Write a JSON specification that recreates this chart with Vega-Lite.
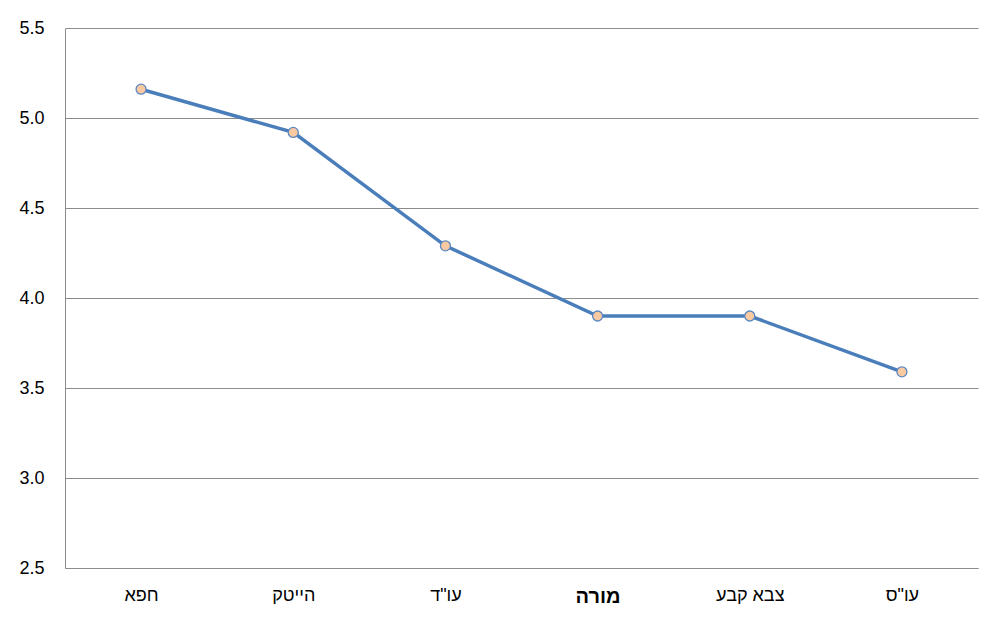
{
  "$schema": "https://vega.github.io/schema/vega-lite/v6.json",
  "autosize": "none",
  "width": 913,
  "height": 540,
  "padding": {"left": 65, "top": 28, "right": 10, "bottom": 49},
  "background": "white",
  "config": {"view": {"stroke": null}},
  "data": {"values": [
    {"occupation": "חפא", "value": 5.16},
    {"occupation": "הייטק", "value": 4.92},
    {"occupation": "עו\"ד", "value": 4.29},
    {"occupation": "מורה", "value": 3.9},
    {"occupation": "צבא קבע", "value": 3.9},
    {"occupation": "עו\"ס", "value": 3.59}
  ]},
  "encoding": {
    "x": {
      "field": "occupation", "type": "nominal", "sort": null,
      "scale": {"type": "point", "padding": 0.5},
      "axis": {
        "title": null, "labelAngle": 0, "ticks": false, "grid": false,
        "domainColor": "#8c8c8c", "domainWidth": 1,
        "labelFont": "Liberation Sans", "labelColor": "#000000",
        "labelPadding": 18,
        "labelFontSize": {"condition": {"test": "datum.value == 'מורה'", "value": 20}, "value": 18},
        "labelFontWeight": {"condition": {"test": "datum.value == 'מורה'", "value": "bold"}, "value": "normal"}
      }
    },
    "y": {
      "field": "value", "type": "quantitative",
      "scale": {"domain": [2.5, 5.5], "nice": false, "zero": false},
      "axis": {
        "title": null, "values": [2.5, 3, 3.5, 4, 4.5, 5, 5.5], "format": ".1f",
        "ticks": false, "grid": true, "gridColor": "#8c8c8c", "gridWidth": 1,
        "domainColor": "#8c8c8c", "domainWidth": 1,
        "labelFont": "Liberation Sans", "labelFontSize": 18, "labelColor": "#000000",
        "labelPadding": 21
      }
    }
  },
  "layer": [
    {"mark": {"type": "line", "color": "#4a7ebb", "strokeWidth": 3.5}},
    {"mark": {"type": "point", "filled": true, "fill": "#f9c9a1", "stroke": "#5b88c2", "strokeWidth": 1.3, "size": 100, "opacity": 1}}
  ]
}
